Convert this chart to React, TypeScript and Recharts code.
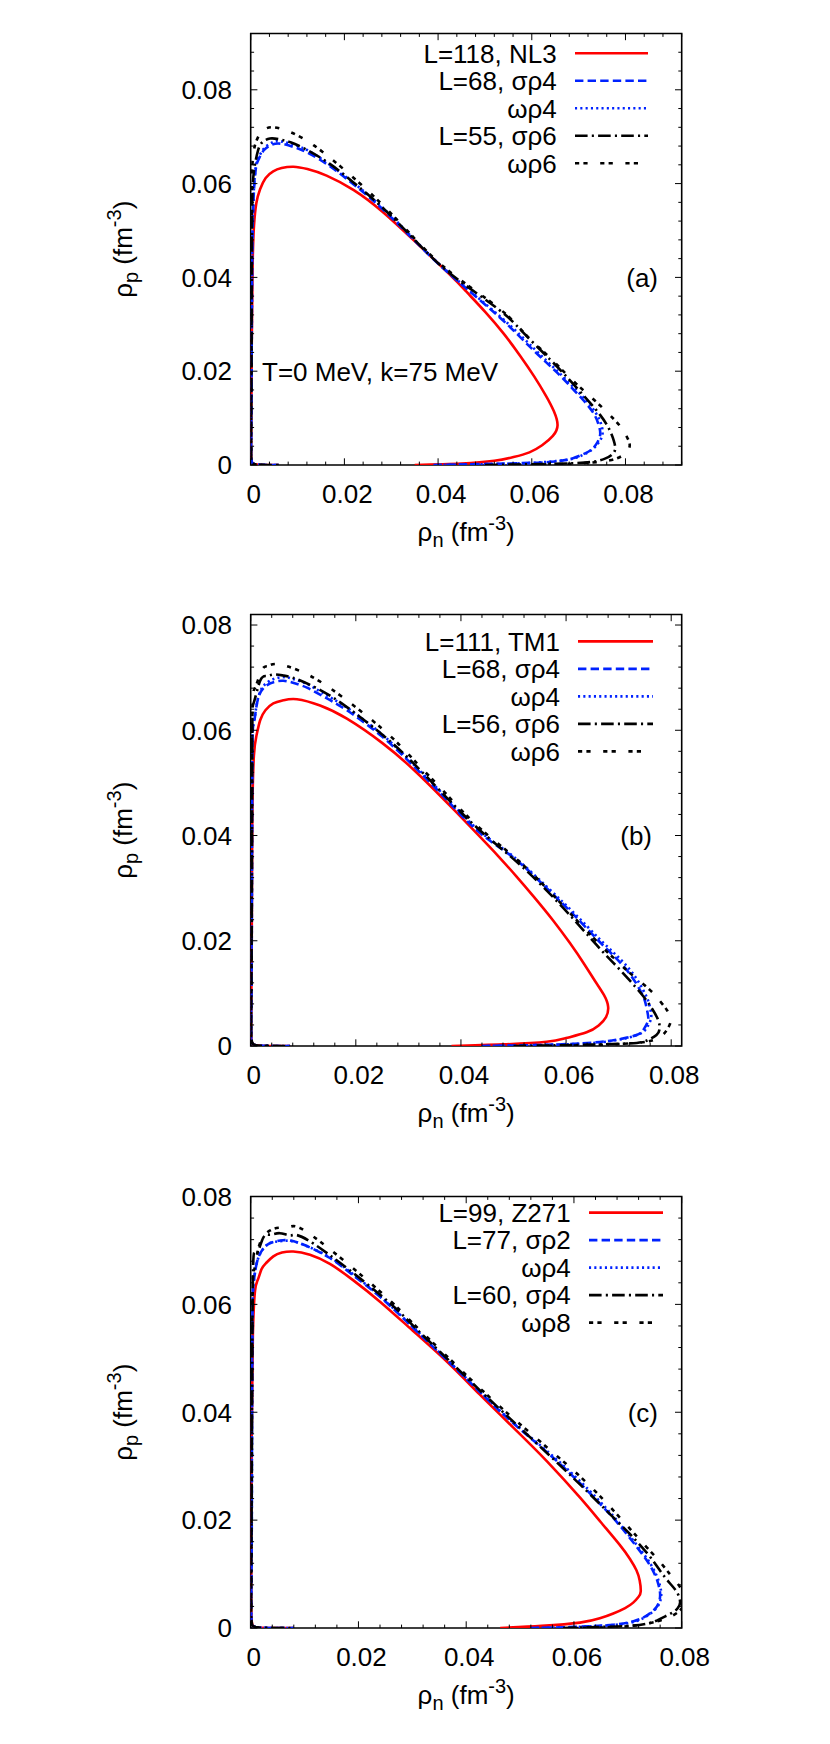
import React from "react";
import { LineChart, Line, XAxis, YAxis, ReferenceArea, Legend } from "recharts";

type P = [number, number];

// ---- panel (a): L=118 NL3 family, T=0 MeV, k=75 MeV ----
const A_NL3: P[] = [
  [0.035, 0], [0.045, 0.0003], [0.052, 0.0009], [0.0561, 0.0017], [0.0595, 0.0027], [0.0622, 0.0042],
  [0.0645, 0.0062], [0.0655, 0.0085], [0.0647, 0.0115], [0.063, 0.0148], [0.0605, 0.0189], [0.0575, 0.0233],
  [0.054, 0.028], [0.05, 0.0327], [0.046, 0.037], [0.0425, 0.0406], [0.0347, 0.048], [0.028, 0.0541],
  [0.022, 0.0586], [0.0162, 0.0617], [0.0121, 0.0631], [0.0091, 0.0636], [0.0066, 0.0633], [0.0048, 0.0626],
  [0.0032, 0.0612], [0.002, 0.0588], [0.0012, 0.0558], [0.0007, 0.051], [0.0004, 0.0421], [0.0002, 0.023],
  [0.0001, 0.006], [0.0001, 0.002], [0.0003, 0.0005], [0.001, 0.00015], [0.002, 0.00005], [0.004, 0], [0.006, 0],
];
const A_SR4: P[] = [
  [0.039, 0], [0.05, 0.0002], [0.058, 0.0004], [0.0632, 0.0006], [0.0675, 0.0011], [0.0703, 0.002],
  [0.0725, 0.0031], [0.0738, 0.0045], [0.0746, 0.0065], [0.0742, 0.0088], [0.0732, 0.011], [0.0712, 0.0136],
  [0.0685, 0.0165], [0.0653, 0.0198], [0.06, 0.0248], [0.053, 0.0316], [0.0425, 0.0407], [0.0347, 0.0481],
  [0.028, 0.0547], [0.022, 0.0598], [0.0169, 0.0637], [0.0125, 0.0664], [0.0095, 0.0677], [0.0065, 0.0685],
  [0.0045, 0.0683], [0.0028, 0.0671], [0.0017, 0.0652], [0.0011, 0.0632], [0.0006, 0.0566], [0.0003, 0.042],
  [0.0002, 0.02], [0.0001, 0.006], [0.0001, 0.002], [0.0003, 0.0005], [0.001, 0.00015], [0.002, 0.00005],
  [0.004, 0], [0.006, 0],
];
const A_WR4: P[] = [
  [0.04, 0], [0.051, 0.0002], [0.059, 0.0004], [0.0637, 0.0007], [0.068, 0.0012], [0.0708, 0.0021],
  [0.0729, 0.0033], [0.0742, 0.0047], [0.0751, 0.0066], [0.0747, 0.009], [0.0736, 0.0112], [0.0716, 0.0138],
  [0.0688, 0.0167], [0.0656, 0.0199], [0.0603, 0.025], [0.0533, 0.0316], [0.0425, 0.0408], [0.0347, 0.0483],
  [0.028, 0.055], [0.022, 0.0601], [0.0169, 0.064], [0.0125, 0.0669], [0.0095, 0.0682], [0.0065, 0.069],
  [0.0047, 0.0688], [0.003, 0.0677], [0.0018, 0.0658], [0.0011, 0.0636], [0.0006, 0.057], [0.0003, 0.042],
  [0.0002, 0.02], [0.0001, 0.006], [0.0001, 0.002], [0.0003, 0.0005], [0.001, 0.00015], [0.002, 0.00005],
  [0.004, 0], [0.006, 0],
];
const A_SR6: P[] = [
  [0.05, 0], [0.062, 0.0002], [0.0695, 0.0004], [0.0731, 0.0007], [0.0755, 0.0013], [0.0771, 0.0022],
  [0.0778, 0.0034], [0.0775, 0.0052], [0.0765, 0.0077], [0.0745, 0.0108], [0.0715, 0.0143], [0.068, 0.0182],
  [0.064, 0.0224], [0.0585, 0.0279], [0.053, 0.0331], [0.0425, 0.0409], [0.0347, 0.0483], [0.028, 0.055],
  [0.022, 0.0602], [0.0169, 0.0642], [0.012, 0.0672], [0.0085, 0.0688], [0.0063, 0.0694], [0.0041, 0.0696],
  [0.0025, 0.0688], [0.0016, 0.0672], [0.0007, 0.0627], [0.0003, 0.0535], [0.0002, 0.03], [0.0001, 0.008],
  [0.0001, 0.002], [0.0003, 0.0005], [0.001, 0.00015], [0.002, 0.00005], [0.004, 0], [0.006, 0],
];
const A_WR6: P[] = [
  [0.055, 0], [0.066, 0.0002], [0.0725, 0.0005], [0.0767, 0.001], [0.0792, 0.0019], [0.0805, 0.003],
  [0.0809, 0.0043], [0.0804, 0.0058], [0.0792, 0.0078], [0.0775, 0.0098], [0.0735, 0.0137], [0.0692, 0.0176],
  [0.0632, 0.0235], [0.0585, 0.028], [0.053, 0.0334], [0.0425, 0.0412], [0.0347, 0.0486], [0.028, 0.0556],
  [0.0205, 0.0625], [0.0134, 0.0682], [0.0084, 0.071], [0.0048, 0.072], [0.003, 0.0716], [0.002, 0.0707],
  [0.0011, 0.0688], [0.0007, 0.0672], [0.0003, 0.0617], [0.0002, 0.04], [0.0001, 0.012], [0.0001, 0.003],
  [0.0003, 0.0006], [0.001, 0.00015], [0.002, 0.00005], [0.004, 0], [0.006, 0],
];
const A_NAMES = ["L=118, NL3", "L=68, σρ4", "ωρ4", "L=55, σρ6", "ωρ6"];

// ---- panel (b): L=111 TM1 family ----
const B_TM1: P[] = [
  [0.0382, 0], [0.048, 0.0003], [0.0563, 0.0008], [0.06, 0.0015], [0.0639, 0.0026], [0.0662, 0.0039],
  [0.0676, 0.0055], [0.068, 0.0075], [0.0672, 0.0097], [0.0656, 0.0122], [0.0635, 0.0155], [0.0607, 0.0196],
  [0.0575, 0.0239], [0.054, 0.0282], [0.0505, 0.0323], [0.047, 0.0362], [0.0436, 0.0398], [0.037, 0.0466],
  [0.0309, 0.0526], [0.025, 0.0576], [0.0183, 0.0622], [0.0132, 0.0647], [0.0088, 0.0659], [0.0062, 0.0657],
  [0.0043, 0.0651], [0.0028, 0.0638], [0.0018, 0.0619], [0.0011, 0.059], [0.0006, 0.0551], [0.0003, 0.0425],
  [0.0002, 0.02], [0.0001, 0.006], [0.0001, 0.002], [0.0003, 0.0005], [0.001, 0.00015], [0.002, 0.00005],
  [0.0045, 0], [0.0075, 0],
];
const B_SR4: P[] = [
  [0.044, 0], [0.055, 0.0002], [0.063, 0.0005], [0.069, 0.0011], [0.0734, 0.0021], [0.0748, 0.0032],
  [0.0755, 0.0045], [0.0756, 0.0058], [0.0752, 0.0078], [0.0745, 0.0098], [0.0722, 0.0136], [0.069, 0.0172],
  [0.0658, 0.0204], [0.0612, 0.0252], [0.0563, 0.03], [0.05, 0.0358], [0.0436, 0.0405], [0.037, 0.0471],
  [0.0309, 0.0533], [0.025, 0.0588], [0.0183, 0.0638], [0.0135, 0.0666], [0.0107, 0.0681], [0.0082, 0.069],
  [0.0062, 0.0694], [0.0045, 0.0692], [0.003, 0.0685], [0.0014, 0.066], [0.0006, 0.0612], [0.0003, 0.0542],
  [0.0002, 0.02], [0.0001, 0.006], [0.0001, 0.002], [0.0003, 0.0005], [0.001, 0.00015], [0.002, 0.00005],
  [0.0045, 0], [0.0075, 0],
];
const B_WR4: P[] = [
  [0.045, 0], [0.056, 0.0002], [0.064, 0.0005], [0.0695, 0.0011], [0.0738, 0.0022], [0.0753, 0.0034],
  [0.076, 0.0047], [0.0762, 0.006], [0.0758, 0.008], [0.075, 0.01], [0.0727, 0.0138], [0.0695, 0.0173],
  [0.0662, 0.0205], [0.0615, 0.0253], [0.0565, 0.0301], [0.05, 0.036], [0.0436, 0.0408], [0.037, 0.0474],
  [0.0309, 0.0536], [0.025, 0.0592], [0.0183, 0.0643], [0.0135, 0.0672], [0.0107, 0.0688], [0.0082, 0.0697],
  [0.0066, 0.0701], [0.0048, 0.0699], [0.0032, 0.0691], [0.0015, 0.0665], [0.0006, 0.0615], [0.0003, 0.0545],
  [0.0002, 0.02], [0.0001, 0.006], [0.0001, 0.002], [0.0003, 0.0005], [0.001, 0.00015], [0.002, 0.00005],
  [0.0045, 0], [0.0075, 0],
];
const B_SR6: P[] = [
  [0.05, 0], [0.062, 0.0002], [0.0722, 0.0005], [0.0755, 0.0011], [0.0772, 0.0021], [0.0778, 0.0033],
  [0.0775, 0.005], [0.0763, 0.0072], [0.0745, 0.0097], [0.0718, 0.0128], [0.069, 0.0158], [0.0658, 0.0192],
  [0.0595, 0.0262], [0.0515, 0.0342], [0.0436, 0.041], [0.037, 0.0475], [0.0309, 0.0538], [0.025, 0.0592],
  [0.0183, 0.0644], [0.0135, 0.0675], [0.0088, 0.0697], [0.0062, 0.0704], [0.0043, 0.0706], [0.003, 0.0703],
  [0.0018, 0.0694], [0.0006, 0.0653], [0.0003, 0.058], [0.0002, 0.025], [0.0001, 0.008], [0.0001, 0.002],
  [0.0003, 0.0005], [0.001, 0.00015], [0.002, 0.00005], [0.0045, 0], [0.0075, 0],
];
const B_WR6: P[] = [
  [0.055, 0], [0.066, 0.0002], [0.0735, 0.0006], [0.0768, 0.0012], [0.0785, 0.0022], [0.0796, 0.0038],
  [0.0799, 0.0052], [0.0792, 0.0068], [0.0779, 0.0085], [0.0758, 0.0108], [0.0722, 0.0138], [0.069, 0.0168],
  [0.0665, 0.0192], [0.0595, 0.0266], [0.0515, 0.0347], [0.0436, 0.0414], [0.037, 0.0481], [0.0309, 0.0545],
  [0.025, 0.0603], [0.0151, 0.068], [0.0088, 0.0715], [0.0049, 0.0726], [0.0032, 0.0722], [0.0021, 0.0714],
  [0.0008, 0.068], [0.0003, 0.0612], [0.0002, 0.03], [0.0001, 0.01], [0.0001, 0.003], [0.0003, 0.0006],
  [0.001, 0.00015], [0.002, 0.00005], [0.0045, 0], [0.0075, 0],
];
const B_NAMES = ["L=111, TM1", "L=68, σρ4", "ωρ4", "L=56, σρ6", "ωρ6"];

// ---- panel (c): L=99 Z271 family ----
const C_Z271: P[] = [
  [0.0463, 0], [0.054, 0.0004], [0.0611, 0.001], [0.0648, 0.0018], [0.0673, 0.0027], [0.0695, 0.0037],
  [0.071, 0.0047], [0.072, 0.0058], [0.0724, 0.0068], [0.0722, 0.0088], [0.0716, 0.0107], [0.0704, 0.0128],
  [0.0685, 0.0154], [0.065, 0.0196], [0.0611, 0.0242], [0.055, 0.0309], [0.0487, 0.0372], [0.0425, 0.0433],
  [0.0364, 0.0494], [0.03, 0.0552], [0.024, 0.0605], [0.019, 0.0645], [0.0147, 0.0675], [0.011, 0.0692],
  [0.0079, 0.0698], [0.0058, 0.0696], [0.0042, 0.0689], [0.0028, 0.0676], [0.002, 0.0665], [0.0013, 0.0645],
  [0.0008, 0.0625], [0.0004, 0.0543], [0.0002, 0.0373], [0.0001, 0.015], [0.0001, 0.004], [0.0003, 0.0006],
  [0.001, 0.00015], [0.002, 0.00005], [0.0045, 0], [0.008, 0],
];
const C_SR2: P[] = [
  [0.052, 0], [0.06, 0.0002], [0.0673, 0.0006], [0.0712, 0.0013], [0.0735, 0.0023], [0.0754, 0.004],
  [0.076, 0.0061], [0.0757, 0.008], [0.0751, 0.0097], [0.074, 0.0118], [0.0723, 0.0142], [0.0685, 0.019],
  [0.0642, 0.0237], [0.057, 0.0308], [0.0487, 0.038], [0.0425, 0.0438], [0.0364, 0.0497], [0.03, 0.0558],
  [0.024, 0.0614], [0.019, 0.0654], [0.0147, 0.0686], [0.0092, 0.0713], [0.006, 0.0719], [0.0043, 0.0716],
  [0.003, 0.071], [0.0014, 0.0686], [0.0006, 0.0645], [0.0003, 0.0543], [0.0002, 0.02], [0.0001, 0.006],
  [0.0001, 0.002], [0.0003, 0.0005], [0.001, 0.00015], [0.002, 0.00005], [0.0045, 0], [0.008, 0],
];
const C_WR4: P[] = [
  [0.053, 0], [0.061, 0.0002], [0.0678, 0.0006], [0.0716, 0.0013], [0.0738, 0.0024], [0.0756, 0.0041],
  [0.0762, 0.0062], [0.0759, 0.0081], [0.0753, 0.0098], [0.0742, 0.0119], [0.0725, 0.0143], [0.0687, 0.0191],
  [0.0645, 0.0238], [0.0572, 0.0309], [0.0487, 0.0381], [0.0425, 0.0439], [0.0364, 0.0498], [0.03, 0.0559],
  [0.024, 0.0615], [0.019, 0.0656], [0.0147, 0.0687], [0.0092, 0.0713], [0.0065, 0.0718], [0.0045, 0.0716],
  [0.003, 0.071], [0.0014, 0.0686], [0.0006, 0.0645], [0.0003, 0.0543], [0.0002, 0.02], [0.0001, 0.006],
  [0.0001, 0.002], [0.0003, 0.0005], [0.001, 0.00015], [0.002, 0.00005], [0.0045, 0], [0.008, 0],
];
const C_SR4: P[] = [
  [0.058, 0], [0.065, 0.0002], [0.0704, 0.0004], [0.074, 0.0009], [0.076, 0.0017], [0.078, 0.0027],
  [0.0792, 0.0036], [0.0797, 0.0047], [0.0792, 0.0065], [0.0778, 0.0083], [0.076, 0.0106], [0.0738, 0.0136],
  [0.0706, 0.0172], [0.0673, 0.0205], [0.06, 0.0277], [0.0487, 0.0383], [0.0425, 0.0441], [0.0364, 0.05],
  [0.03, 0.0562], [0.024, 0.0618], [0.0116, 0.0713], [0.0075, 0.0728], [0.0054, 0.0732], [0.0036, 0.0729],
  [0.0023, 0.0723], [0.001, 0.0693], [0.0004, 0.0645], [0.0002, 0.03], [0.0001, 0.009], [0.0001, 0.002],
  [0.0003, 0.0005], [0.001, 0.00015], [0.002, 0.00005], [0.0045, 0], [0.008, 0],
];
const C_WR8: P[] = [
  [0.06, 0], [0.068, 0.0002], [0.0735, 0.0008], [0.0772, 0.0018], [0.0795, 0.0031], [0.0805, 0.0047],
  [0.0803, 0.0064], [0.0794, 0.008], [0.0778, 0.01], [0.0755, 0.0128], [0.072, 0.0166], [0.0642, 0.0251],
  [0.0565, 0.0322], [0.0487, 0.0389], [0.0425, 0.0445], [0.0364, 0.0504], [0.03, 0.0566], [0.024, 0.0624],
  [0.0116, 0.0726], [0.0073, 0.0744], [0.0052, 0.0742], [0.0036, 0.0737], [0.0017, 0.0713], [0.0007, 0.0666],
  [0.0003, 0.06], [0.0002, 0.03], [0.0001, 0.01], [0.0001, 0.003], [0.0003, 0.0006], [0.001, 0.00015],
  [0.002, 0.00005], [0.0045, 0], [0.008, 0],
];
const C_NAMES = ["L=99, Z271", "L=77, σρ2", "ωρ4", "L=60, σρ4", "ωρ8"];

const MAJOR_TICKS = [0, 0.02, 0.04, 0.06, 0.08];

const FONT = '"Liberation Sans", Arial, Helvetica, sans-serif';
const W = 830;
const PANEL_H = 1744 / 3;
const CHART_H = 581;
const LEFT = 250.7;
const RIGHT = 681.7;
const TOP = 33.5;
const BOTTOM = 465;

const STYLES = [
  { stroke: "#ff0000", dash: undefined as string | undefined },
  { stroke: "#0022ff", dash: "8.4 4.2" },
  { stroke: "#0022ff", dash: "2.1 3.2" },
  { stroke: "#000000", dash: "12.6 4.2 2.1 4.2" },
  { stroke: "#000000", dash: "4.2 4.2 4.2 12.6" },
];

type PanelCfg = {
  max: number;
  names: string[];
  series: P[][];
  tag: string;
  tagRight: number;
  tagBase: number;
  note?: string;
  legendY: number;
  legendText: number;
  legendX1: number;
  legendX2: number;
};

const PANELS: PanelCfg[] = [
  {
    max: 0.092, names: A_NAMES, series: [A_NL3, A_SR4, A_WR4, A_SR6, A_WR6],
    tag: "(a)", tagRight: 658, tagBase: 287, note: "T=0 MeV, k=75 MeV",
    legendY: 53.3, legendText: 556.7, legendX1: 575, legendX2: 648,
  },
  {
    max: 0.082, names: B_NAMES, series: [B_TM1, B_SR4, B_WR4, B_SR6, B_WR6],
    tag: "(b)", tagRight: 652, tagBase: 263.5,
    legendY: 60.4, legendText: 560, legendX1: 578, legendX2: 653,
  },
  {
    max: 0.08, names: C_NAMES, series: [C_Z271, C_SR2, C_WR4, C_SR4, C_WR8],
    tag: "(c)", tagRight: 658, tagBase: 258.5,
    legendY: 49.6, legendText: 570.7, legendX1: 589, legendX2: 663,
  },
];

function allTicks(max: number) {
  const out: number[] = [];
  for (let i = 0; i * 0.004 <= max + 1e-9; i++) out.push(Number((i * 0.004).toFixed(3)));
  return out;
}

function isMajor(v: number) {
  return MAJOR_TICKS.some((m) => Math.abs(m - v) < 1e-9);
}

function fmt(v: number) {
  return v === 0 ? "0" : v.toFixed(2);
}

function XTick(props: any) {
  const { x, payload } = props;
  const v = payload.value;
  const major = isMajor(v);
  const len = major ? 6.7 : 3.4;
  return (
    <g>
      <line x1={x} x2={x} y1={BOTTOM} y2={BOTTOM - len} stroke="#000" strokeWidth={1} />
      <line x1={x} x2={x} y1={TOP} y2={TOP + len} stroke="#000" strokeWidth={1} />
      {major && (
        <text x={x + 3} y={BOTTOM + 37.5} textAnchor="middle" fontSize={26} fontFamily={FONT} fill="#000">
          {fmt(v)}
        </text>
      )}
    </g>
  );
}

function YTick(props: any) {
  const { y, payload } = props;
  const v = payload.value;
  const major = isMajor(v);
  const len = major ? 6.7 : 3.4;
  return (
    <g>
      <line x1={LEFT} x2={LEFT + len} y1={y} y2={y} stroke="#000" strokeWidth={1} />
      <line x1={RIGHT} x2={RIGHT - len} y1={y} y2={y} stroke="#000" strokeWidth={1} />
      {major && (
        <text x={232} y={y + 9.3} textAnchor="end" fontSize={26} fontFamily={FONT} fill="#000">
          {fmt(v)}
        </text>
      )}
    </g>
  );
}

function Panel({ cfg, index }: { cfg: PanelCfg; index: number }) {
  const ticks = allTicks(cfg.max);
  const renderLegend = () => (
    <svg width={W} height={CHART_H} style={{ display: "block" }}>
      {cfg.names.map((name, i) => {
        const y = cfg.legendY + i * 27.5;
        const st = STYLES[i];
        return (
          <g key={name}>
            <text x={cfg.legendText} y={y + 9.3} textAnchor="end" fontSize={26} fontFamily={FONT} fill="#000">
              {name}
            </text>
            <line x1={cfg.legendX1} x2={cfg.legendX2} y1={y} y2={y} stroke={st.stroke} strokeWidth={2.6} strokeDasharray={st.dash} />
          </g>
        );
      })}
    </svg>
  );

  return (
    <div style={{ position: "absolute", left: 0, top: index * PANEL_H, width: W, height: CHART_H }}>
      <LineChart
        width={W}
        height={CHART_H}
        margin={{ top: TOP, right: W - RIGHT, bottom: 0, left: 0 }}
      >
        <XAxis
          type="number"
          dataKey="x"
          domain={[0, cfg.max]}
          ticks={ticks}
          interval={0}
          height={CHART_H - BOTTOM}
          axisLine={false}
          tickLine={false}
          tick={XTick}
          allowDataOverflow
        />
        <YAxis
          type="number"
          dataKey="y"
          domain={[0, cfg.max]}
          ticks={ticks}
          interval={0}
          width={LEFT}
          axisLine={false}
          tickLine={false}
          tick={YTick}
          allowDataOverflow
        />
        {cfg.series.map((s, i) => (
          <Line
            key={cfg.names[i]}
            name={cfg.names[i]}
            data={s.map(([x, y]) => ({ x, y }))}
            dataKey="y"
            type="natural"
            stroke={STYLES[i].stroke}
            strokeWidth={2.6}
            strokeDasharray={STYLES[i].dash}
            dot={false}
            activeDot={false}
            isAnimationActive={false}
          />
        ))}
        <ReferenceArea x1={0} x2={cfg.max} y1={0} y2={cfg.max} fill="none" stroke="#000" strokeWidth={1.6} />
        <Legend
          layout="horizontal"
          verticalAlign="middle"
          align="center"
          content={renderLegend}
          wrapperStyle={{ left: 0, top: 0, width: W, height: CHART_H, pointerEvents: "none" }}
        />
      </LineChart>
      <svg
        width={W}
        height={CHART_H}
        style={{ position: "absolute", left: 0, top: 0, pointerEvents: "none" }}
        fontFamily={FONT}
        fontSize={26}
      >
        <text transform={`translate(132, ${(TOP + BOTTOM) / 2}) rotate(-90)`} textAnchor="middle" fill="#000">
          ρ<tspan dy={6} fontSize={20}>p</tspan>
          <tspan dy={-6}> (fm</tspan>
          <tspan dy={-11} fontSize={20}>-3</tspan>
          <tspan dy={11}>)</tspan>
        </text>
        <text x={(LEFT + RIGHT) / 2} y={541} textAnchor="middle" fill="#000">
          ρ<tspan dy={6} fontSize={20}>n</tspan>
          <tspan dy={-6}> (fm</tspan>
          <tspan dy={-11} fontSize={20}>-3</tspan>
          <tspan dy={11}>)</tspan>
        </text>
        <text x={cfg.tagRight} y={cfg.tagBase} textAnchor="end" fill="#000">
          {cfg.tag}
        </text>
        {cfg.note && (
          <text x={262} y={380.7} fill="#000">
            {cfg.note}
          </text>
        )}
      </svg>
    </div>
  );
}

export default function App() {
  return (
    <div
      style={{
        position: "absolute",
        left: 0,
        top: 0,
        width: W,
        height: 1744,
        background: "#fff",
        fontFamily: FONT,
      }}
    >
      {PANELS.map((cfg, i) => (
        <Panel key={cfg.tag} cfg={cfg} index={i} />
      ))}
    </div>
  );
}
